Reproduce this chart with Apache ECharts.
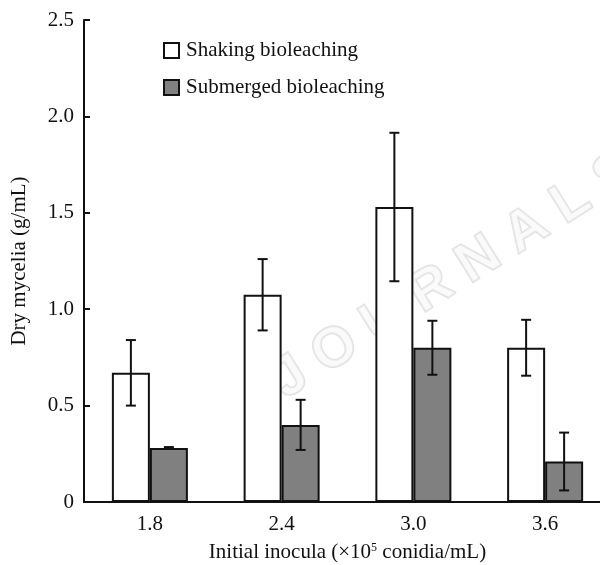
<!DOCTYPE html>
<html>
<head>
<meta charset="utf-8">
<script src="https://cdn.jsdelivr.net/npm/echarts@6/dist/echarts.min.js"></script>
<style>html,body{margin:0;padding:0;background:#fff}#c{width:600px;height:565px}</style>
</head>
<body>
<div id="c"></div>
<script>
const categories = ['1.8', '2.4', '3.0', '3.6'];
const shakingMean = [0.67, 1.075, 1.53, 0.80];
const shakingErr = [0.17, 0.185, 0.385, 0.145];
const submergedMean = [0.28, 0.40, 0.80, 0.21];
const submergedErr = [0.005, 0.13, 0.14, 0.15];
const yTicks = [0, 0.5, 1.0, 1.5, 2.0, 2.5];

const FONT = "'Liberation Serif', 'Times New Roman', serif";
const FS = 21;
const BAR_W = 38;
const chart = echarts.init(document.getElementById('c'));

function errSeries(means, errs, offset) {
  return {
    type: 'custom',
    z: 10,
    silent: true,
    data: means.map((m, i) => [i, m - errs[i], m + errs[i]]),
    renderItem: function (params, api) {
      const lo = api.coord([api.value(0), api.value(1)]);
      const hi = api.coord([api.value(0), api.value(2)]);
      const x = lo[0] + offset;
      const cap = 5;
      const st = { stroke: '#111', lineWidth: 2 };
      return {
        type: 'group',
        children: [
          { type: 'line', shape: { x1: x, y1: lo[1], x2: x, y2: hi[1] }, style: st },
          { type: 'line', shape: { x1: x - cap, y1: lo[1], x2: x + cap, y2: lo[1] }, style: st },
          { type: 'line', shape: { x1: x - cap, y1: hi[1], x2: x + cap, y2: hi[1] }, style: st }
        ]
      };
    }
  };
}

chart.setOption({
  animation: false,
  backgroundColor: '#fff',
  textStyle: { fontFamily: FONT },
  graphic: [{
    type: 'text',
    x: 292, y: 410,
    rotation: Math.PI * 32 / 180,
    z: 0,
    style: {
      text: 'J O U R N A L S',
      font: 'bold 56px sans-serif',
      fill: 'rgba(245,245,245,0.5)',
      stroke: 'rgba(205,205,205,0.6)',
      lineWidth: 2,
      textVerticalAlign: 'bottom'
    }
  }],
  legend: {
    orient: 'vertical',
    left: 158, top: 35,
    icon: 'rect',
    itemWidth: 15, itemHeight: 15,
    itemGap: 16,
    textStyle: { fontFamily: FONT, fontSize: FS, color: '#111', padding: [0, 0, 0, 2] },
    data: ['Shaking bioleaching', 'Submerged bioleaching']
  },
  grid: { left: 84, top: 20, right: -11, bottom: 63, outerBoundsMode: 'none', containLabel: false },
  xAxis: {
    type: 'category',
    data: categories,
    name: '{a|Initial inocula (×10}{s|5}{a| conidia/mL)}',
    nameLocation: 'middle',
    nameGap: 40,
    nameTextStyle: {
      rich: {
        a: { fontFamily: FONT, fontSize: FS, color: '#111' },
        s: { fontFamily: FONT, fontSize: 12, color: '#111', verticalAlign: 'top', padding: [0, 0, 9, 0] }
      }
    },
    axisLine: { lineStyle: { color: '#111', width: 2 } },
    axisTick: { inside: true, length: 6, lineStyle: { color: '#111', width: 2 } },
    axisLabel: { fontFamily: FONT, fontSize: FS, color: '#111', margin: 12 }
  },
  yAxis: {
    type: 'value',
    min: 0, max: 2.5, interval: 0.5,
    name: 'Dry mycelia (g/mL)',
    nameLocation: 'middle',
    nameGap: 54,
    nameTextStyle: { fontFamily: FONT, fontSize: FS, color: '#111' },
    splitLine: { show: false },
    axisLine: { show: true, lineStyle: { color: '#111', width: 2 } },
    axisTick: { show: true, inside: true, length: 6, lineStyle: { color: '#111', width: 2 } },
    axisLabel: {
      fontFamily: FONT, fontSize: FS, color: '#111', margin: 10,
      formatter: v => (yTicks.indexOf(v) >= 0 ? (v === 0 ? '0' : v.toFixed(1)) : '')
    }
  },
  series: [
    {
      name: 'Shaking bioleaching',
      type: 'bar',
      data: shakingMean,
      barWidth: BAR_W,
      barGap: '0%',
      itemStyle: { color: '#ffffff', borderColor: '#111', borderWidth: 2 }
    },
    {
      name: 'Submerged bioleaching',
      type: 'bar',
      data: submergedMean,
      barWidth: BAR_W,
      barGap: '0%',
      itemStyle: { color: '#808080', borderColor: '#111', borderWidth: 2 }
    },
    errSeries(shakingMean, shakingErr, -BAR_W / 2),
    errSeries(submergedMean, submergedErr, BAR_W / 2)
  ]
});
</script>
</body>
</html>
